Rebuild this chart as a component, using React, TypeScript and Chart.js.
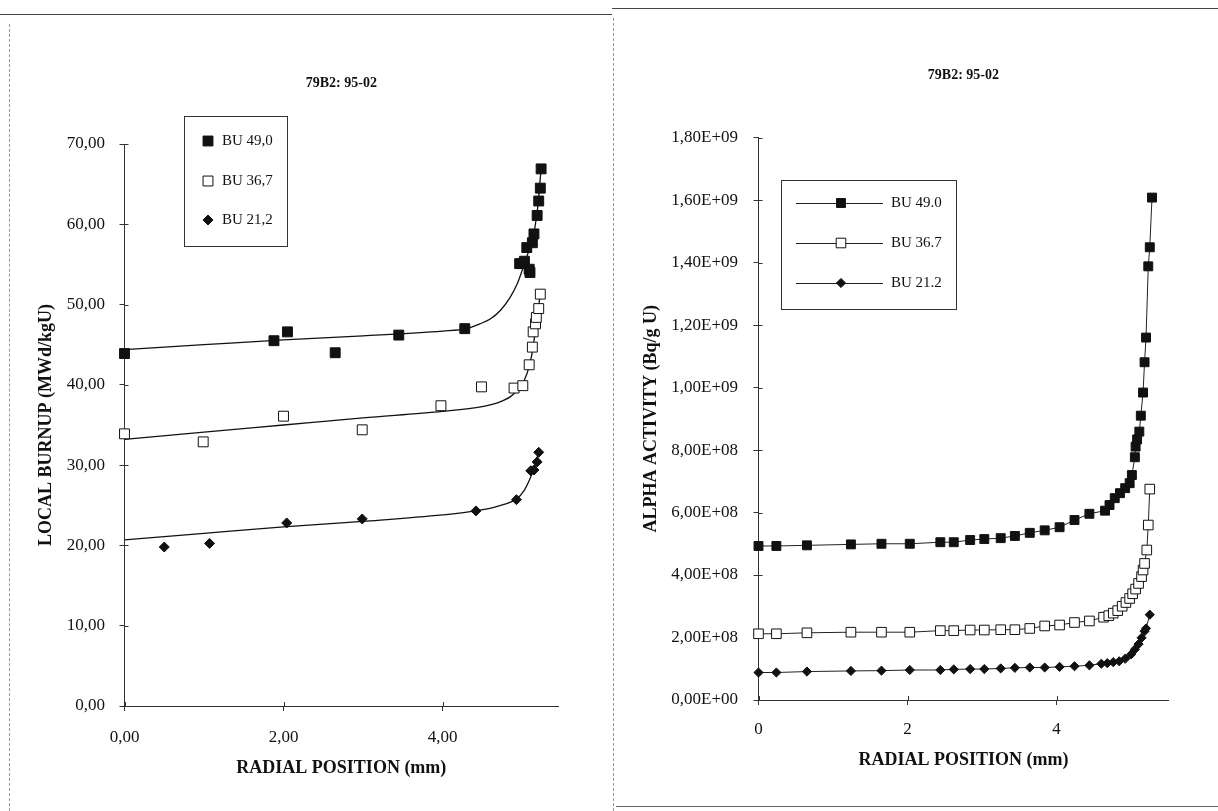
import React, { useEffect, useRef } from 'react';
import { Chart, registerables } from 'chart.js';
import { drawPoint } from 'chart.js/helpers';

Chart.register(...registerables);

const FONT = '"Liberation Serif", "Times New Roman", serif';
const INK = '#111';
const AXIS = '#333';

// ---------- Left chart: local burnup ----------
const LEFT_TITLE = '79B2: 95-02';
const LEFT_X_TITLE = 'RADIAL POSITION (mm)';
const LEFT_Y_TITLE = 'LOCAL BURNUP (MWd/kgU)';
const LEFT_LABELS = ['BU 49,0', 'BU 36,7', 'BU 21,2'];
const LEFT_X_MAX = 5.455;
const LEFT_X_STEP = 2;
const LEFT_Y_MAX = 70;
const LEFT_Y_STEP = 10;

const BU49_X = [0, 1.88, 2.05, 2.65, 3.45, 4.28, 4.97, 5.0, 5.03, 5.06, 5.09, 5.1, 5.13, 5.15, 5.19, 5.21, 5.23, 5.24];
const BU49_Y = [43.9, 45.5, 46.6, 44.0, 46.2, 47.0, 55.1, 55.1, 55.4, 57.1, 54.4, 54.0, 57.7, 58.8, 61.1, 62.9, 64.5, 66.9];
const BU36_X = [0, 0.99, 2.0, 2.99, 3.98, 4.49, 4.9, 5.01, 5.09, 5.13, 5.14, 5.17, 5.18, 5.21, 5.23];
const BU36_Y = [33.9, 32.9, 36.1, 34.4, 37.4, 39.75, 39.6, 39.9, 42.5, 44.7, 46.6, 47.6, 48.4, 49.5, 51.3];
const BU21_X = [0.5, 1.07, 2.04, 2.99, 4.42, 4.93, 5.11, 5.15, 5.19, 5.21];
const BU21_Y = [19.8, 20.25, 22.8, 23.3, 24.3, 25.7, 29.3, 29.4, 30.4, 31.6];

const FIT49_X = [0, 1, 2, 3, 4, 4.3, 4.47, 4.6, 4.73, 4.85, 4.94, 5.0, 5.06, 5.13, 5.19, 5.24];
const FIT49_Y = [44.4, 45.0, 45.6, 46.1, 46.7, 47.0, 47.6, 48.2, 49.3, 50.9, 52.6, 54.2, 56.0, 58.0, 61.5, 66.9];
const FIT36_X = [0, 1, 2, 3, 4, 4.5, 4.7, 4.85, 4.95, 5.03, 5.09, 5.14, 5.18, 5.23];
const FIT36_Y = [33.2, 34.1, 35.0, 35.9, 36.7, 37.3, 37.8, 38.5, 39.4, 40.6, 42.3, 44.7, 47.8, 51.3];
const FIT21_X = [0, 1, 2, 3, 4, 4.42, 4.7, 4.93, 5.03, 5.1, 5.15, 5.21];
const FIT21_Y = [20.7, 21.5, 22.3, 23.0, 23.8, 24.3, 24.9, 25.8, 26.9, 28.3, 29.6, 31.6];

// ---------- Right chart: alpha activity ----------
const RIGHT_TITLE = '79B2: 95-02';
const RIGHT_X_TITLE = 'RADIAL POSITION (mm)';
const RIGHT_Y_TITLE = 'ALPHA ACTIVITY (Bq/g U)';
const RIGHT_LABELS = ['BU 49.0', 'BU 36.7', 'BU 21.2'];
const RIGHT_X_MAX = 5.5;
const RIGHT_X_STEP = 2;
const RIGHT_Y_MAX = 1.8e9;
const RIGHT_Y_STEP = 2e8;

const A49_X = [0, 0.24, 0.65, 1.24, 1.65, 2.03, 2.44, 2.62, 2.84, 3.03, 3.25, 3.44, 3.64, 3.84, 4.04, 4.24, 4.44, 4.65, 4.71, 4.78, 4.85, 4.92, 4.98, 5.01, 5.05, 5.06, 5.08, 5.11, 5.13, 5.16, 5.18, 5.2, 5.23, 5.25, 5.28];
const A49_Y = [4.93e8, 4.93e8, 4.95e8, 4.98e8, 5.0e8, 5.0e8, 5.05e8, 5.05e8, 5.12e8, 5.15e8, 5.18e8, 5.25e8, 5.35e8, 5.43e8, 5.53e8, 5.76e8, 5.96e8, 6.06e8, 6.24e8, 6.46e8, 6.62e8, 6.78e8, 6.94e8, 7.2e8, 7.77e8, 8.11e8, 8.34e8, 8.59e8, 9.1e8, 9.84e8, 10.81e8, 11.6e8, 13.88e8, 14.49e8, 16.08e8];
const A36_X = [0, 0.24, 0.65, 1.24, 1.65, 2.03, 2.44, 2.62, 2.84, 3.03, 3.25, 3.44, 3.64, 3.84, 4.04, 4.24, 4.44, 4.63, 4.7, 4.76, 4.82, 4.88, 4.93, 4.98, 5.02, 5.06, 5.1, 5.14, 5.16, 5.18, 5.21, 5.23, 5.25];
const A36_Y = [2.12e8, 2.12e8, 2.15e8, 2.17e8, 2.17e8, 2.17e8, 2.22e8, 2.22e8, 2.24e8, 2.24e8, 2.25e8, 2.25e8, 2.29e8, 2.37e8, 2.4e8, 2.48e8, 2.53e8, 2.65e8, 2.7e8, 2.78e8, 2.86e8, 3.0e8, 3.12e8, 3.25e8, 3.4e8, 3.55e8, 3.73e8, 3.95e8, 4.16e8, 4.37e8, 4.8e8, 5.6e8, 6.75e8];
const A21_X = [0, 0.24, 0.65, 1.24, 1.65, 2.03, 2.44, 2.62, 2.84, 3.03, 3.25, 3.44, 3.64, 3.84, 4.04, 4.24, 4.44, 4.6, 4.68, 4.76, 4.84, 4.92, 5.0, 5.05, 5.1, 5.14, 5.18, 5.2, 5.25];
const A21_Y = [0.88e8, 0.88e8, 0.91e8, 0.93e8, 0.94e8, 0.96e8, 0.96e8, 0.98e8, 0.99e8, 0.99e8, 1.01e8, 1.03e8, 1.04e8, 1.04e8, 1.06e8, 1.08e8, 1.11e8, 1.16e8, 1.18e8, 1.21e8, 1.24e8, 1.32e8, 1.46e8, 1.62e8, 1.79e8, 1.99e8, 2.2e8, 2.29e8, 2.73e8];

const pts = (xs: number[], ys: number[]) => xs.map((x, i) => ({ x, y: ys[i] }));
const comma2 = (v: number) => v.toFixed(2).replace('.', ',');
const sci = (v: number) => {
  if (Math.abs(v) < 1e-9) return '0,00E+00';
  const e = Math.floor(Math.log10(Math.abs(v)) + 1e-9);
  const m = v / Math.pow(10, e);
  return m.toFixed(2).replace('.', ',') + 'E' + (e < 0 ? '-' : '+') + String(Math.abs(e)).padStart(2, '0');
};

const boxLegend = {
  id: 'boxLegend',
  afterDraw(chart: any, _args: any, opts: any) {
    const { ctx } = chart;
    const { box, rows, markerX, textX, line } = opts;
    ctx.save();
    ctx.strokeStyle = AXIS;
    ctx.lineWidth = 1;
    ctx.strokeRect(box.x + 0.5, box.y + 0.5, box.w, box.h);
    rows.forEach((row: any) => {
      const ds = chart.data.datasets[row.dataset];
      if (line) {
        ctx.beginPath();
        ctx.moveTo(line[0], row.y + 0.5);
        ctx.lineTo(line[1], row.y + 0.5);
        ctx.strokeStyle = '#222';
        ctx.lineWidth = 1;
        ctx.stroke();
      }
      ctx.fillStyle = ds.pointBackgroundColor;
      ctx.strokeStyle = ds.pointBorderColor;
      ctx.lineWidth = ds.pointBorderWidth;
      drawPoint(ctx, { pointStyle: ds.pointStyle, radius: row.r, borderWidth: ds.pointBorderWidth, rotation: 0 } as any, markerX, row.y);
      ctx.fillStyle = INK;
      ctx.font = `15px ${FONT}`;
      ctx.textBaseline = 'middle';
      ctx.textAlign = 'left';
      ctx.fillText(ds.label, textX, row.y);
    });
    ctx.restore();
  },
};

const innerTicks = {
  id: 'innerTicks',
  afterDraw(chart: any) {
    const { ctx, scales, chartArea } = chart;
    ctx.save();
    ctx.strokeStyle = AXIS;
    ctx.lineWidth = 1;
    scales.y.ticks.forEach((t: any) => {
      const py = Math.round(scales.y.getPixelForValue(t.value)) + 0.5;
      ctx.beginPath();
      ctx.moveTo(chartArea.left, py);
      ctx.lineTo(chartArea.left + 4, py);
      ctx.stroke();
    });
    scales.x.ticks.forEach((t: any) => {
      const px = Math.round(scales.x.getPixelForValue(t.value)) + 0.5;
      ctx.beginPath();
      ctx.moveTo(px, chartArea.bottom);
      ctx.lineTo(px, chartArea.bottom - 4);
      ctx.stroke();
    });
    ctx.restore();
  },
};

function markerSet(label: string, data: any[], style: string, r: number, filled: boolean, line: boolean) {
  return {
    label,
    data,
    clip: false,
    showLine: line,
    borderColor: '#222',
    borderWidth: 1,
    pointStyle: style,
    pointRadius: r,
    pointBackgroundColor: filled ? INK : '#fff',
    pointBorderColor: INK,
    pointBorderWidth: 1,
  };
}

function fitSet(label: string, data: any[]) {
  return {
    label,
    data,
    clip: false,
    showLine: true,
    pointRadius: 0,
    borderColor: INK,
    borderWidth: 1.3,
    cubicInterpolationMode: 'monotone',
  };
}

function axisCommon(title: string, titlePad: any) {
  return {
    type: 'linear',
    grid: { drawOnChartArea: false, drawTicks: true, tickLength: 5, color: AXIS },
    border: { display: true, color: AXIS, width: 1 },
    title: { display: true, text: title, color: INK, font: { family: FONT, size: 18, weight: 'bold' }, padding: titlePad },
  };
}

function LeftChart() {
  const ref = useRef<HTMLCanvasElement>(null);
  useEffect(() => {
    const chart = new Chart(ref.current as HTMLCanvasElement, {
      type: 'scatter',
      data: {
        datasets: [
          markerSet(LEFT_LABELS[0], pts(BU49_X, BU49_Y), 'rect', 7, true, false),
          markerSet(LEFT_LABELS[1], pts(BU36_X, BU36_Y), 'rect', 7, false, false),
          markerSet(LEFT_LABELS[2], pts(BU21_X, BU21_Y), 'rectRot', 5, true, false),
          fitSet('fit 49,0', pts(FIT49_X, FIT49_Y)),
          fitSet('fit 36,7', pts(FIT36_X, FIT36_Y)),
          fitSet('fit 21,2', pts(FIT21_X, FIT21_Y)),
        ] as any,
      },
      options: {
        responsive: false,
        animation: false,
        events: [],
        layout: { padding: { left: 0, right: 53.8, top: 0, bottom: 0 } },
        scales: {
          x: {
            ...axisCommon(LEFT_X_TITLE, { top: 0, bottom: 32.2 }),
            min: 0,
            max: LEFT_X_MAX,
            ticks: { stepSize: LEFT_X_STEP, includeBounds: false, padding: 16, color: INK, font: { family: FONT, size: 17 }, callback: (v: any) => comma2(Number(v)) },
            afterFit: (s: any) => { s.height = 105; },
          },
          y: {
            ...axisCommon(LEFT_Y_TITLE, { top: 36, bottom: 0 }),
            min: 0,
            max: LEFT_Y_MAX,
            ticks: { stepSize: LEFT_Y_STEP, padding: 14.5, color: INK, font: { family: FONT, size: 17 }, callback: (v: any) => comma2(Number(v)) },
            afterFit: (s: any) => { s.width = 124.5; },
          },
        } as any,
        plugins: {
          legend: { display: false },
          tooltip: { enabled: false },
          title: { display: true, text: LEFT_TITLE, fullSize: false, color: INK, font: { family: FONT, size: 14, weight: 'bold' }, padding: { top: 74.6, bottom: 52.6 } },
          boxLegend: {
            box: { x: 184, y: 116, w: 103, h: 130 },
            markerX: 208,
            textX: 222,
            rows: [
              { dataset: 0, y: 141, r: 7 },
              { dataset: 1, y: 181, r: 7 },
              { dataset: 2, y: 220, r: 5 },
            ],
          },
        } as any,
      },
      plugins: [boxLegend, innerTicks],
    });
    return () => chart.destroy();
  }, []);
  return <canvas ref={ref} width={612} height={811} style={{ position: 'absolute', left: 0, top: 0, width: 612, height: 811 }} />;
}

function RightChart() {
  const ref = useRef<HTMLCanvasElement>(null);
  useEffect(() => {
    const chart = new Chart(ref.current as HTMLCanvasElement, {
      type: 'scatter',
      data: {
        datasets: [
          markerSet(RIGHT_LABELS[0], pts(A49_X, A49_Y), 'rect', 6.3, true, true),
          markerSet(RIGHT_LABELS[1], pts(A36_X, A36_Y), 'rect', 6.8, false, true),
          markerSet(RIGHT_LABELS[2], pts(A21_X, A21_Y), 'rectRot', 4.6, true, true),
        ] as any,
      },
      options: {
        responsive: false,
        animation: false,
        events: [],
        layout: { padding: { left: 0, right: 49.6, top: 0, bottom: 0 } },
        scales: {
          x: {
            ...axisCommon(RIGHT_X_TITLE, { top: 0, bottom: 40.2 }),
            min: 0,
            max: RIGHT_X_MAX,
            ticks: { stepSize: RIGHT_X_STEP, includeBounds: false, padding: 14, color: INK, font: { family: FONT, size: 17 }, callback: (v: any) => String(v) },
            afterFit: (s: any) => { s.height = 111; },
          },
          y: {
            ...axisCommon(RIGHT_Y_TITLE, { top: 28.2, bottom: 0 }),
            min: 0,
            max: RIGHT_Y_MAX,
            ticks: { stepSize: RIGHT_Y_STEP, padding: 15.5, color: INK, font: { family: FONT, size: 17 }, callback: (v: any) => sci(Number(v)) },
            afterFit: (s: any) => { s.width = 146.5; },
          },
        } as any,
        plugins: {
          legend: { display: false },
          tooltip: { enabled: false },
          title: { display: true, text: RIGHT_TITLE, fullSize: false, color: INK, font: { family: FONT, size: 14, weight: 'bold' }, padding: { top: 66.6, bottom: 54.2 } },
          boxLegend: {
            box: { x: 169, y: 180, w: 175, h: 129 },
            markerX: 229,
            textX: 279,
            line: [184, 271],
            rows: [
              { dataset: 0, y: 203, r: 6.3 },
              { dataset: 1, y: 243, r: 6.8 },
              { dataset: 2, y: 283, r: 4.6 },
            ],
          },
        } as any,
      },
      plugins: [boxLegend, innerTicks],
    });
    return () => chart.destroy();
  }, []);
  return <canvas ref={ref} width={606} height={811} style={{ position: 'absolute', left: 612, top: 0, width: 606, height: 811 }} />;
}

export default function App() {
  return (
    <div style={{ position: 'fixed', left: 0, top: 0, width: 1218, height: 811, background: '#fff', overflow: 'hidden' }}>
      <div style={{ position: 'absolute', left: 0, top: 14, width: 612, height: 0, borderTop: '1px solid #444' }} />
      <div style={{ position: 'absolute', left: 612, top: 8, width: 606, height: 0, borderTop: '1px solid #444' }} />
      <div style={{ position: 'absolute', left: 9, top: 24, width: 0, height: 787, borderLeft: '1px dashed #999' }} />
      <div style={{ position: 'absolute', left: 613, top: 18, width: 0, height: 793, borderLeft: '1px dashed #999' }} />
      <div style={{ position: 'absolute', left: 616, top: 806, width: 602, height: 0, borderTop: '1px solid #666' }} />
      <LeftChart />
      <RightChart />
    </div>
  );
}
